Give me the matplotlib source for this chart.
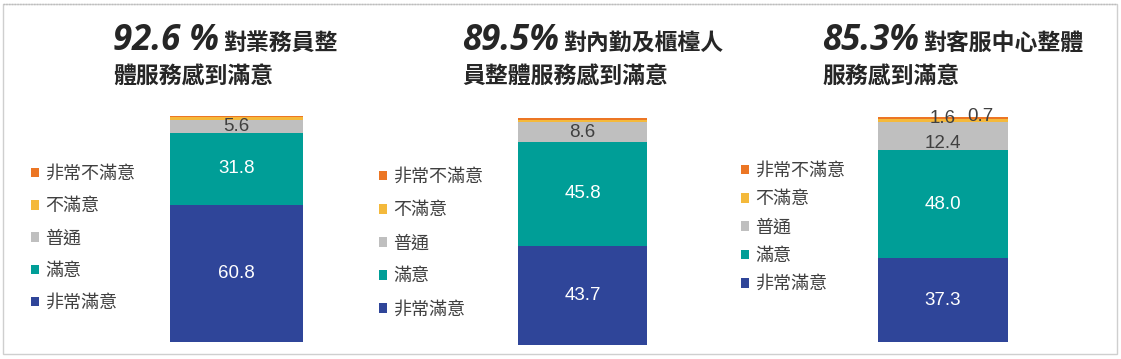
import matplotlib.pyplot as plt
from matplotlib.patches import Rectangle
from matplotlib.lines import Line2D

plt.rcParams['font.family'] = ['Noto Sans CJK TC', 'DejaVu Sans']

# 資料
categories = ['非常滿意', '滿意', '普通', '不滿意', '非常不滿意']
colors = ['#2f4599', '#009e97', '#bfbfbf', '#f4b93b', '#ec7624']

pct_labels = ['92.6 %', '89.5%', '85.3%']
title_line1 = ['對業務員整', '對內勤及櫃檯人', '對客服中心整體']
title_line2 = ['體服務感到滿意', '員整體服務感到滿意', '服務感到滿意']

values_sales = [60.8, 31.8, 5.6, 1.4, 0.4]
values_office = [43.7, 45.8, 8.6, 0.9, 1.0]
values_service = [37.3, 48.0, 12.4, 1.6, 0.7]
all_values = [values_sales, values_office, values_service]

W, H = 1121, 359
fig = plt.figure(figsize=(W / 100, H / 100), dpi=100)

def fx(px):
    return px / W

def fy(py):
    return 1 - py / H

# 外框
fig.add_artist(Rectangle((fx(3), fy(354)), fx(1114), fy(4) - fy(354),
                         transform=fig.transFigure, fill=False,
                         edgecolor='#cfcfcf', lw=1))
fig.add_artist(Line2D([fx(3), fx(1117)], [fy(4), fy(4)], transform=fig.transFigure,
                      color='#bdbdbd', lw=1, ls=(0, (1, 1))))

# 版面位置 (px)
bar_boxes = [(170, 116, 303, 342), (518, 118, 647, 345), (878, 117, 1008, 342)]
title_x = [113, 462, 822]
legend_pos = [(31, 165), (379, 168), (741, 162)]
legend_spacing = [0.79, 0.84, 0.57]

renderer = fig.canvas.get_renderer()

for k in range(3):
    x0, y0, x1, y1 = bar_boxes[k]
    ax = fig.add_axes([fx(x0), fy(y1), fx(x1 - x0), fy(y0) - fy(y1)])
    vals = all_values[k]
    bottom = 0
    handles = []
    for i, v in enumerate(vals):
        b = ax.bar(0, v, bottom=bottom, width=1.0, color=colors[i], linewidth=0)
        handles.append(b[0])
        bottom += v
    ax.set_xlim(-0.5, 0.5)
    ax.set_ylim(0, 100)
    ax.axis('off')

    # 數值標籤
    cum = 0
    for i, v in enumerate(vals):
        mid = cum + v / 2
        if i < 2:
            ax.text(0, mid, f'{v:.1f}', ha='center', va='center', color='white',
                    fontsize=13.5, family='Liberation Sans')
        elif i == 2:
            dy = -5 if k == 2 else 0
            ax.annotate(f'{v:.1f}', (0, mid), xytext=(0, dy), textcoords='offset points',
                        ha='center', va='center', color='#404040',
                        fontsize=13.5, family='Liberation Sans')
        cum += v
    if k == 2:
        top_y = sum(vals[:3])
        ax.annotate(f'{vals[3]:.1f}', (0, top_y), xytext=(0, 3), textcoords='offset points',
                    ha='center', va='center', color='#404040',
                    fontsize=13.5, family='Liberation Sans')
        ax.annotate(f'{vals[4]:.1f}', (0, top_y), xytext=(27, 4), textcoords='offset points',
                    ha='center', va='center', color='#404040',
                    fontsize=13.5, family='Liberation Sans')

    # 圖例
    lx, ly = legend_pos[k]
    leg = ax.legend(handles[::-1], categories[::-1], loc='upper left',
                    bbox_to_anchor=(fx(lx), fy(ly)), bbox_transform=fig.transFigure,
                    frameon=False, fontsize=13, handlelength=0.45, handleheight=0.45,
                    handletextpad=0.35, labelspacing=legend_spacing[k],
                    borderpad=0, borderaxespad=0, labelcolor='#404040')

    # 標題
    t1 = fig.text(fx(title_x[k]), fy(50), pct_labels[k], fontsize=25,
                  family=['Open Sans', 'DejaVu Sans'], weight='bold', style='italic',
                  color='#262626', va='baseline')
    bb = t1.get_window_extent(renderer)
    fig.text(bb.x1 / W + fx(4), fy(50), title_line1[k], fontsize=16.5, weight='bold',
             color='#262626', va='baseline')
    fig.text(fx(title_x[k]), fy(84), title_line2[k], fontsize=16.5, weight='bold',
             color='#262626', va='baseline')

fig.savefig('out.png', dpi=100)
